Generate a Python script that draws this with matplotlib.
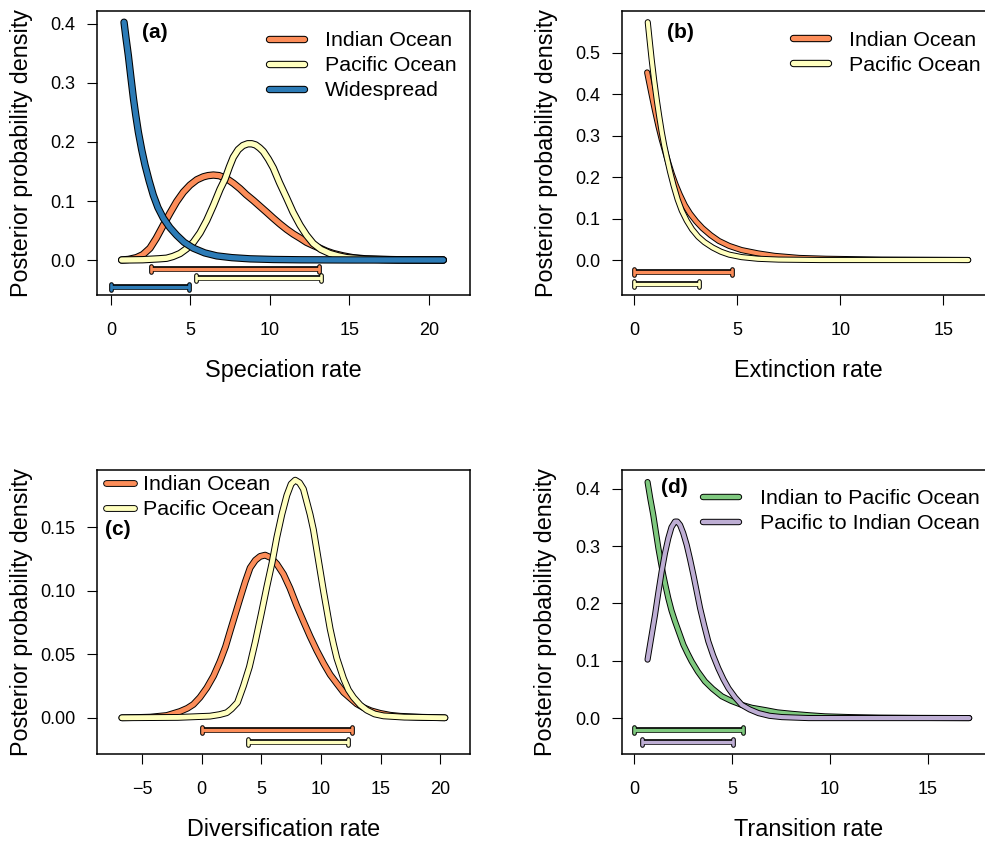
import matplotlib
matplotlib.use("Agg")
import matplotlib.pyplot as plt
from matplotlib.lines import Line2D
from matplotlib.markers import MarkerStyle

plt.rcParams['font.family'] = ['Liberation Sans', 'DejaVu Sans']

# colours
ORANGE = '#FC8D59'
YELLOW = '#FFFFBF'
BLUE = '#2C7BB6'
GREEN = '#7FC97F'
PURPLE = '#BEAED4'

# (a) speciation rate
spec_indian_x = [0.67, 1.1, 1.6, 2.0, 2.45, 2.85, 3.29, 3.7, 4.13, 4.55, 4.97, 5.4, 5.81, 6.1,
                 6.44, 6.8, 7.27, 7.7, 8.11, 8.5, 8.95, 9.37, 9.79, 10.2, 10.63, 11.05, 11.47,
                 11.9, 12.3, 12.7, 13.14, 13.55, 13.98, 14.6, 15.2, 16.0, 17.0, 18.5, 20.9]
spec_indian_y = [0.0, 0.001, 0.004, 0.009, 0.020, 0.037, 0.059, 0.079, 0.099, 0.115, 0.127,
                 0.136, 0.141, 0.143, 0.144, 0.143, 0.138, 0.130, 0.121, 0.111, 0.101, 0.091,
                 0.081, 0.071, 0.061, 0.052, 0.044, 0.037, 0.030, 0.025, 0.020, 0.015, 0.011,
                 0.007, 0.004, 0.002, 0.001, 0.0003, 0.0]
spec_pacific_x = [0.67, 2.0, 3.0, 3.5, 3.9, 4.34, 4.75, 5.18, 5.6, 6.02, 6.45, 6.86, 7.17, 7.45,
                  7.69, 8.0, 8.3, 8.6, 8.85, 9.1, 9.35, 9.58, 9.9, 10.21, 10.6, 11.05, 11.45,
                  11.89, 12.3, 12.72, 13.2, 13.77, 14.3, 14.82, 16.0, 18.0, 20.9]
spec_pacific_y = [0.0, 0.0005, 0.002, 0.003, 0.006, 0.011, 0.019, 0.030, 0.046, 0.067, 0.093,
                  0.120, 0.137, 0.158, 0.174, 0.187, 0.194, 0.197, 0.197, 0.195, 0.190, 0.184,
                  0.171, 0.156, 0.131, 0.105, 0.081, 0.059, 0.042, 0.028, 0.018, 0.011, 0.007,
                  0.004, 0.0015, 0.0003, 0.0]
spec_wide_x = [0.82, 0.95, 1.09, 1.25, 1.41, 1.56, 1.72, 1.93, 2.14, 2.4, 2.66, 2.95, 3.29, 3.7,
               4.13, 4.6, 5.18, 5.9, 6.65, 7.6, 8.74, 10.2, 11.9, 15.0, 20.9]
spec_wide_y = [0.403, 0.375, 0.347, 0.310, 0.274, 0.245, 0.217, 0.187, 0.161, 0.134, 0.110,
               0.089, 0.071, 0.055, 0.042, 0.030, 0.020, 0.012, 0.007, 0.004, 0.002, 0.0009,
               0.0004, 0.0001, 0.0]
spec_ci_low = [2.5, 5.33, 0.0]
spec_ci_high = [13.1, 13.19, 4.93]

# (b) extinction rate
ext_indian_x = [0.62, 0.73, 0.84, 1.0, 1.17, 1.33, 1.49, 1.65, 1.82, 2.0, 2.2, 2.45, 2.7, 3.0,
                3.3, 3.7, 4.1, 4.6, 5.2, 6.0, 6.8, 8.0, 9.3, 12.0, 16.2]
ext_indian_y = [0.452, 0.425, 0.398, 0.360, 0.322, 0.290, 0.262, 0.234, 0.207, 0.182, 0.158,
                0.132, 0.112, 0.093, 0.077, 0.060, 0.046, 0.034, 0.024, 0.016, 0.010, 0.005,
                0.003, 0.001, 0.0]
ext_pacific_x = [0.65, 0.75, 0.84, 0.96, 1.09, 1.21, 1.33, 1.45, 1.57, 1.73, 1.9, 2.1, 2.3, 2.54,
                 2.8, 3.1, 3.4, 3.8, 4.2, 4.6, 5.2, 6.0, 7.0, 9.0, 16.2]
ext_pacific_y = [0.573, 0.525, 0.483, 0.433, 0.385, 0.345, 0.308, 0.276, 0.248, 0.213, 0.180,
                 0.146, 0.119, 0.095, 0.074, 0.056, 0.043, 0.030, 0.020, 0.013, 0.007, 0.003,
                 0.001, 0.0, 0.0]
ext_ci_low = [0.0, 0.0]
ext_ci_high = [4.73, 3.14]

# (c) diversification rate
div_indian_x = [-6.7, -5.5, -4.33, -2.93, -1.81, -1.2, -0.7, -0.15, 0.43, 1.0, 1.54, 2.0, 2.38,
                2.8, 3.22, 3.65, 4.06, 4.5, 4.9, 5.32, 5.8, 6.3, 6.86, 7.4, 7.98, 8.53, 9.09,
                9.65, 10.21, 10.77, 11.33, 11.9, 12.45, 13.0, 13.57, 14.2, 14.97, 15.8, 16.64,
                18.5, 20.4]
div_indian_y = [0.0, 0.0002, 0.0005, 0.0018, 0.005, 0.0075, 0.0105, 0.016, 0.0236, 0.033,
                0.0445, 0.056, 0.068, 0.081, 0.094, 0.107, 0.118, 0.124, 0.127, 0.128, 0.126,
                0.121, 0.113, 0.102, 0.088, 0.076, 0.064, 0.053, 0.043, 0.034, 0.027, 0.020,
                0.0155, 0.011, 0.008, 0.0055, 0.0035, 0.002, 0.0012, 0.0004, 0.0]
div_pacific_x = [-6.7, -2.0, 0.7, 1.5, 2.1, 2.5, 3.0, 3.5, 4.0, 4.5, 5.0, 5.46, 5.9, 6.3, 6.72,
                 7.14, 7.5, 7.84, 8.2, 8.53, 9.09, 9.37, 9.65, 10.21, 10.77, 11.05, 11.33, 11.89,
                 12.3, 12.73, 13.3, 13.85, 14.5, 15.25, 17.0, 20.4]
div_pacific_y = [0.0, 0.0003, 0.0013, 0.0025, 0.004, 0.007, 0.012, 0.025, 0.040, 0.060, 0.082,
                 0.103, 0.122, 0.142, 0.160, 0.175, 0.184, 0.187, 0.185, 0.180, 0.160, 0.148,
                 0.132, 0.100, 0.070, 0.058, 0.047, 0.031, 0.022, 0.016, 0.010, 0.006, 0.003,
                 0.0015, 0.0005, 0.0]
div_ci_low = [0.0, 3.92]
div_ci_high = [12.6, 12.3]

# (d) transition rate
tr_ip_x = [0.68, 0.82, 0.97, 1.1, 1.23, 1.36, 1.48, 1.61, 1.74, 1.9, 2.08, 2.3, 2.51, 2.72, 2.93,
           3.25, 3.61, 4.0, 4.47, 4.95, 5.49, 6.0, 6.68, 7.3, 8.05, 8.9, 9.74, 11.0, 12.5, 14.5,
           17.1]
tr_ip_y = [0.412, 0.383, 0.355, 0.326, 0.297, 0.272, 0.250, 0.229, 0.209, 0.188, 0.169, 0.148,
           0.128, 0.113, 0.099, 0.081, 0.064, 0.051, 0.038, 0.030, 0.023, 0.018, 0.014, 0.010,
           0.0074, 0.005, 0.003, 0.0017, 0.0008, 0.0003, 0.0]
tr_pi_x = [0.68, 0.87, 1.06, 1.23, 1.4, 1.57, 1.74, 1.9, 2.08, 2.2, 2.34, 2.5, 2.68, 2.85, 3.02,
           3.19, 3.36, 3.57, 3.78, 4.03, 4.29, 4.55, 4.81, 5.15, 5.49, 5.9, 6.34, 6.9, 7.54,
           8.9, 17.1]
tr_pi_y = [0.102, 0.141, 0.180, 0.219, 0.256, 0.288, 0.314, 0.333, 0.343, 0.343, 0.337, 0.323,
           0.302, 0.277, 0.250, 0.221, 0.192, 0.162, 0.134, 0.109, 0.087, 0.068, 0.052, 0.036,
           0.023, 0.015, 0.0087, 0.004, 0.0017, 0.0, 0.0]
tr_ci_low = [0.0, 0.41]
tr_ci_high = [5.54, 5.03]

W, H = 985, 841
fig = plt.figure(figsize=(W / 100, H / 100), dpi=100)


def px_axes(left, top, width=373, height=284):
    return fig.add_axes([left / W, 1 - (top + height) / H, width / W, height / H])


def curve(ax, x, y, color, lw_out, lw_in):
    ax.plot(x, y, color='black', lw=lw_out, solid_capstyle='round', solid_joinstyle='round')
    ax.plot(x, y, color=color, lw=lw_in, solid_capstyle='round', solid_joinstyle='round')


def interval(ax, lo, hi, level, color):
    cap = MarkerStyle('|', capstyle='round')
    ax.plot([lo, hi], [level, level], color='black', lw=4.1, solid_capstyle='butt',
            marker=cap, ms=4.2, mew=3.4, mec='black')
    ax.plot([lo, hi], [level, level], color=color, lw=2.4, solid_capstyle='butt',
            marker=cap, ms=4.2, mew=1.9, mec=color)


def style(ax, xlim, ylim, xticks, yticks, yfmt, xlabel, tag, tag_xy):
    ax.set_xlim(*xlim)
    ax.set_ylim(*ylim)
    ax.set_xticks(xticks)
    ax.set_yticks(yticks)
    ax.set_yticklabels([yfmt.format(v) for v in yticks])
    ax.tick_params(axis='both', direction='out', length=7.2, width=0.8, labelsize=13)
    ax.tick_params(axis='x', pad=12.5)
    ax.tick_params(axis='y', pad=8.5)
    for s in ax.spines.values():
        s.set_linewidth(1.1)
    ax.set_xlabel(xlabel, fontsize=16.8, va='center')
    ax.xaxis.set_label_coords(0.5, -0.266)
    ax.set_ylabel('Posterior probability density', fontsize=16.8, va='center')
    ax.yaxis.set_label_coords(-0.203, 0.5)
    ax.text(tag_xy[0], tag_xy[1], tag, transform=ax.transAxes, fontsize=15,
            fontweight='bold', ha='left', va='center')


def legend(ax, colors, labels, left_px, top_px, lw_out, lw_in, hlen, hpad):
    handles = []
    for c in colors:
        handles.append((Line2D([], [], color='black', lw=lw_out, solid_capstyle='round'),
                        Line2D([], [], color=c, lw=lw_in, solid_capstyle='round')))
    ax.legend(handles, labels, loc='upper left',
              bbox_to_anchor=(left_px / W, 1 - top_px / H), bbox_transform=fig.transFigure,
              frameon=False, borderpad=0, borderaxespad=0, fontsize=15.4,
              handlelength=hlen, handletextpad=hpad, labelspacing=0.29)


# panel (a)
ax = px_axes(97, 11)
curve(ax, spec_indian_x, spec_indian_y, ORANGE, 5.3, 3.8)
curve(ax, spec_pacific_x, spec_pacific_y, YELLOW, 5.3, 3.8)
curve(ax, spec_wide_x, spec_wide_y, BLUE, 5.3, 3.8)
for i, c in enumerate([ORANGE, YELLOW, BLUE]):
    interval(ax, spec_ci_low[i], spec_ci_high[i], -0.0152 * (i + 1), c)
style(ax, (-0.88, 22.58), (-0.0593, 0.422), [0, 5, 10, 15, 20], [0, 0.1, 0.2, 0.3, 0.4],
      '{:.1f}', 'Speciation rate', '(a)', (0.12, 0.926))
legend(ax, [ORANGE, YELLOW, BLUE], ['Indian Ocean', 'Pacific Ocean', 'Widespread'],
       268.5, 31, 5.3, 3.8, 1.66, 1.0)

# panel (b)
ax = px_axes(622, 11)
curve(ax, ext_indian_x, ext_indian_y, ORANGE, 4.4, 3.0)
curve(ax, ext_pacific_x, ext_pacific_y, YELLOW, 4.4, 3.0)
for i, c in enumerate([ORANGE, YELLOW]):
    interval(ax, ext_ci_low[i], ext_ci_high[i], -0.0295 * (i + 1), c)
style(ax, (-0.6, 17.5), (-0.0843, 0.6), [0, 5, 10, 15], [0, 0.1, 0.2, 0.3, 0.4, 0.5],
      '{:.1f}', 'Extinction rate', '(b)', (0.12, 0.926))
legend(ax, [ORANGE, YELLOW], ['Indian Ocean', 'Pacific Ocean'],
       792.5, 30.5, 5.3, 3.8, 1.66, 1.0)

# panel (c)
ax = px_axes(97, 470)
curve(ax, div_indian_x, div_indian_y, ORANGE, 4.9, 3.5)
curve(ax, div_pacific_x, div_pacific_y, YELLOW, 4.9, 3.5)
for i, c in enumerate([ORANGE, YELLOW]):
    interval(ax, div_ci_low[i], div_ci_high[i], -0.0095 * (i + 1), c)
style(ax, (-8.78, 22.5), (-0.0285, 0.195), [-5, 0, 5, 10, 15, 20], [0, 0.05, 0.10, 0.15],
      '{:.2f}', 'Diversification rate', '(c)', (0.021, 0.79))
legend(ax, [ORANGE, YELLOW], ['Indian Ocean', 'Pacific Ocean'],
       106, 475, 4.9, 3.5, 1.31, 0.42)

# panel (d)
ax = px_axes(621.7, 470)
curve(ax, tr_ip_x, tr_ip_y, GREEN, 4.4, 3.0)
curve(ax, tr_pi_x, tr_pi_y, PURPLE, 4.4, 3.0)
for i, c in enumerate([GREEN, PURPLE]):
    interval(ax, tr_ci_low[i], tr_ci_high[i], -0.0208 * (i + 1), c)
style(ax, (-0.64, 18.4), (-0.0627, 0.433), [0, 5, 10, 15], [0, 0.1, 0.2, 0.3, 0.4],
      '{:.1f}', 'Transition rate', '(d)', (0.105, 0.938))
legend(ax, [GREEN, PURPLE], ['Indian to Pacific Ocean', 'Pacific to Indian Ocean'],
       703, 489, 4.6, 3.2, 1.68, 0.98)

fig.savefig('out.png', dpi=100)
